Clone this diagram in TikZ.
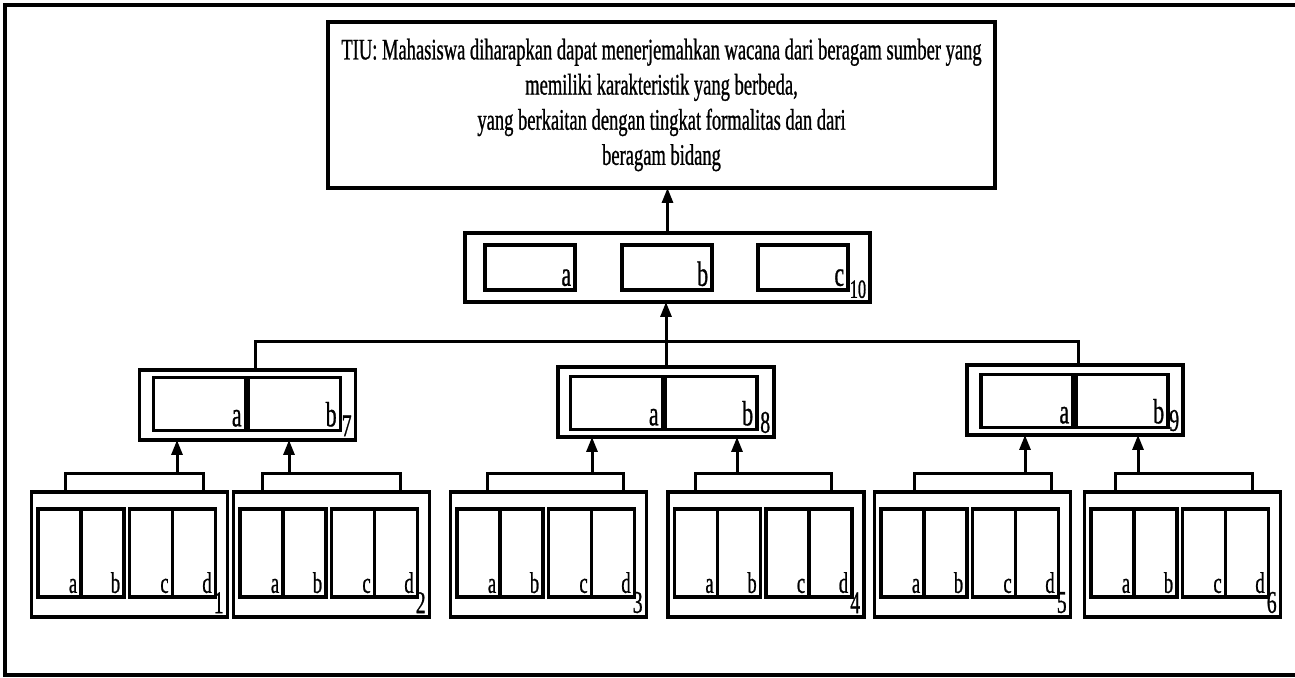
\documentclass[tikz,border=0pt]{standalone}
\usepackage{fontspec}
\newfontfamily\narrowfont[FakeStretch=0.62,FakeBold=0.8]{Liberation Serif}
\usetikzlibrary{shapes,arrows.meta,calc}

\begin{document}
\begin{tikzpicture}[x=0.02cm, y=-0.02cm,
    cellline/.style={rectangle, draw, line width=0.07cm, inner sep=0pt, outer sep=0pt},
    tiubox/.style={cellline, minimum width=13.34cm, minimum height=3.32cm, align=center,
        font=\narrowfont\fontsize{17pt}{20pt}\selectfont},
    tenbox/.style={cellline, minimum width=8.1cm, minimum height=1.38cm},
    tencell/.style={cellline, minimum width=1.8cm, minimum height=0.9cm},
    midbox/.style={cellline, minimum width=4.32cm, minimum height=1.4cm},
    midcell/.style={cellline, minimum width=1.84cm, minimum height=1.06cm},
    lowbox/.style={cellline, minimum width=3.92cm, minimum height=2.5cm},
    lowcell/.style={cellline, minimum width=0.86cm, minimum height=1.76cm},
    lbl/.style={anchor=south east, inner sep=0.07cm, font=\narrowfont\fontsize{20pt}{20pt}\selectfont},
    lbls/.style={anchor=south east, inner sep=0.07cm, font=\narrowfont\fontsize{17pt}{17pt}\selectfont},
    num/.style={anchor=south east, inner sep=0.07cm, font=\narrowfont\fontsize{18pt}{18pt}\selectfont},
    nums/.style={anchor=south east, inner sep=0.07cm, font=\narrowfont\fontsize{15pt}{15pt}\selectfont},
    conn/.style={line width=0.06cm},
    arr/.style={conn, -{Triangle[width=0.22cm,length=0.3cm]}}]

    \useasboundingbox (0,0) rectangle (1295,678);
    \draw[line width=0.09cm] (1300,5) -| (5,675) -- (1300,675);

    % goal of the course
    \node[tiubox] (tiu) at (661.5,105) {TIU: Mahasiswa diharapkan dapat menerjemahkan wacana dari beragam sumber yang\\
        memiliki karakteristik yang berbeda,\\
        yang berkaitan dengan tingkat formalitas dan dari\\
        beragam bidang};

    % level 10
    \node[tenbox, label={[nums]south east:10}] (b10) at (667.5,267.5) {};
    \node[tencell, label={[lbl]south east:a}] (b10a) at (530,267.5) {};
    \node[tencell, label={[lbl]south east:b}] (b10b) at (667,267.5) {};
    \node[tencell, label={[lbl]south east:c}] (b10c) at (803,267.5) {};

    % level 7 - 9
    \node[midbox, label={[num]south east:7}] (b7) at (247.5,405) {};
    \node[midcell, label={[lbl]south east:a}] (b7a) at (199.5,404) {};
    \node[midcell, label={[lbl]south east:b}] (b7b) at (294.5,404) {};

    \node[midbox, label={[num]south east:8}] (b8) at (666,402) {};
    \node[midcell, label={[lbl]south east:a}] (b8a) at (616.5,403) {};
    \node[midcell, label={[lbl]south east:b}] (b8b) at (711,403) {};

    \node[midbox, label={[num]south east:9}] (b9) at (1075,400) {};
    \node[midcell, label={[lbl]south east:a}] (b9a) at (1027,401) {};
    \node[midcell, label={[lbl]south east:b}] (b9b) at (1122,401) {};

    % level 1 - 6
    \foreach \i/\cx/\xl/\xr/\xa/\p in {1/129.5/65/203/177/b7, 2/331.5/262/400/289/b7,
        3/548.5/487/623/592/b8, 4/766/695/831/737/b8,
        5/972.5/914/1051/1025/b9, 6/1182.5/1115/1252/1138/b9} {
        \node[lowbox, label={[num]south east:\i}] (b\i) at (\cx,554.5) {};
        \node[lowcell, label={[lbls]south east:a}] (b\i-a) at (\cx-70,553) {};
        \node[lowcell, label={[lbls]south east:b}] (b\i-b) at (\cx-27,553) {};
        \node[lowcell, label={[lbls]south east:c}] (b\i-c) at (\cx+21.5,553) {};
        \node[lowcell, label={[lbls]south east:d}] (b\i-d) at (\cx+64.5,553) {};
        \coordinate (l\i) at (\xl,474);
        \coordinate (r\i) at (\xr,474);
        \coordinate (t\i) at (\xa,474);
        \draw[conn] (l\i |- b\i.north) -- (l\i) -- (r\i) -- (r\i |- b\i.north);
        \draw[arr] (t\i) -- (t\i |- \p.south);
    }

    % connectors up to the goal
    \coordinate (j7) at (255,342);
    \coordinate (j8) at (666,342);
    \coordinate (j9) at (1078,342);
    \draw[conn] (j7 |- b7.north) -- (j7) -- (j9) -- (j9 |- b9.north);
    \draw[conn] (j8) -- (b8.north);
    \draw[arr] (j8) -- (j8 |- b10.south);
    \draw[arr] (b10.north) -- (b10.north |- tiu.south);
\end{tikzpicture}
\end{document}
